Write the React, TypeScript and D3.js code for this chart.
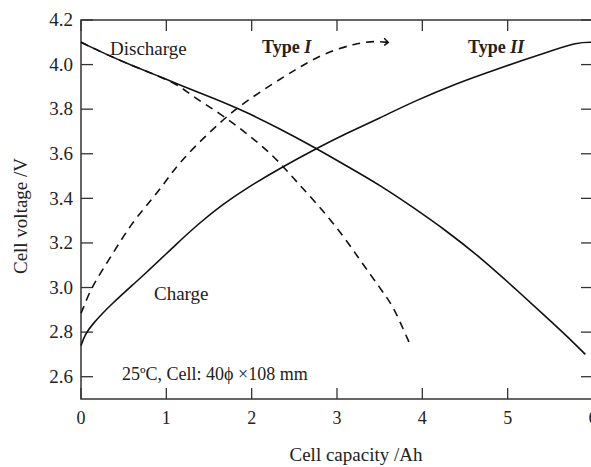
import * as d3 from "d3";

// Type II cell (solid)
const dischargeIIX = [0, 0.3, 0.6, 0.9, 1.16, 1.55, 1.94, 2.33, 2.72, 3.1, 3.5, 3.89, 4.28, 4.68, 5.06, 5.46, 5.7, 5.91];
const dischargeIIY = [4.1, 4.045, 3.995, 3.95, 3.908, 3.85, 3.787, 3.712, 3.632, 3.548, 3.46, 3.36, 3.255, 3.135, 3.005, 2.865, 2.78, 2.7];
const chargeIIX = [0, 0.05, 0.12, 0.35, 0.75, 1.13, 1.39, 1.65, 1.94, 2.33, 2.77, 3.1, 3.5, 3.9, 4.41, 4.8, 5.18, 5.5, 5.81, 6.0];
const chargeIIY = [2.74, 2.79, 2.83, 2.925, 3.06, 3.2, 3.29, 3.37, 3.446, 3.535, 3.626, 3.69, 3.76, 3.835, 3.917, 3.97, 4.02, 4.06, 4.1, 4.1];

// Type I cell (dashed)
const dischargeIX = [0, 0.3, 0.6, 0.9, 1.16, 1.28, 1.63, 1.94, 2.25, 2.49, 2.76, 3.04, 3.27, 3.5, 3.66, 3.78, 3.86];
const dischargeIY = [4.1, 4.045, 3.995, 3.95, 3.905, 3.864, 3.781, 3.692, 3.594, 3.49, 3.378, 3.25, 3.123, 3.0, 2.915, 2.81, 2.742];
const chargeIX = [0, 0.04, 0.12, 0.35, 0.59, 0.82, 1.0, 1.16, 1.47, 1.79, 2.1, 2.41, 2.57, 2.84, 3.23, 3.45, 3.6];
const chargeIY = [2.885, 2.92, 3.0, 3.138, 3.288, 3.39, 3.48, 3.564, 3.684, 3.796, 3.878, 3.953, 3.99, 4.05, 4.097, 4.105, 4.1];

const xTicks = [0, 1, 2, 3, 4, 5, 6];
const yTicks = [2.6, 2.8, 3.0, 3.2, 3.4, 3.6, 3.8, 4.0, 4.2];

const width = 591;
const height = 467;
const margin = { top: 20, right: -2, bottom: 68, left: 81 };
const font = "'Liberation Serif', 'Times New Roman', serif";

const App = () => {
  const innerWidth = width - margin.left - margin.right;
  const innerHeight = height - margin.top - margin.bottom;

  const xScale = d3.scaleLinear().domain([0, 6]).range([0, innerWidth]);
  const yScale = d3.scaleLinear().domain([2.5, 4.2]).range([innerHeight, 0]);

  // basis curve smooths out small reading errors
  const line = d3
    .line<number>()
    .x((d) => xScale(d))
    .curve(d3.curveBasis);

  const path = (xs: number[], ys: number[]) =>
    line.y((_, i) => yScale(ys[i]))(xs) || "";

  const series = [
    { xs: dischargeIIX, ys: dischargeIIY, dash: null },
    { xs: chargeIIX, ys: chargeIIY, dash: null },
    { xs: dischargeIX, ys: dischargeIY, dash: "8,6" },
    { xs: chargeIX, ys: chargeIY, dash: "8,6" },
  ];

  // end of the type I charge curve has a small tick mark
  const endX = xScale(chargeIX[chargeIX.length - 1]);
  const endY = yScale(chargeIY[chargeIY.length - 1]);

  return (
    <div>
      <style>{"body{margin:0}"}</style>
      <svg width={width} height={height} style={{ display: "block" }} fontFamily={font}>
        <rect width={width} height={height} fill="#fff" />
        <g transform={`translate(${margin.left},${margin.top})`}>
          {/* frame */}
          <rect width={innerWidth} height={innerHeight} fill="none" stroke="#333" strokeWidth={1.5} />
          {xTicks.map((t) => (
            <g key={t} transform={`translate(${xScale(t)},0)`}>
              <line y1={innerHeight} y2={innerHeight - 11} stroke="#333" strokeWidth={1.3} />
              <line y1={0} y2={11} stroke="#333" strokeWidth={1.3} />
              <text y={innerHeight + 25} textAnchor="middle" fontSize={18} fill="#222">
                {t}
              </text>
            </g>
          ))}
          {yTicks.map((t) => (
            <g key={t} transform={`translate(0,${yScale(t)})`}>
              <line x1={0} x2={12} stroke="#333" strokeWidth={1.3} />
              <line x1={innerWidth} x2={innerWidth - 12} stroke="#333" strokeWidth={1.3} />
              <text x={-8} dy="0.33em" textAnchor="end" fontSize={19} fill="#222">
                {t.toFixed(1)}
              </text>
            </g>
          ))}
          {series.map((s, i) => (
            <path
              key={i}
              d={path(s.xs, s.ys)}
              fill="none"
              stroke="#111"
              strokeWidth={1.6}
              strokeDasharray={s.dash || undefined}
            />
          ))}
          <path
            d={`M${endX - 4},${endY - 4}L${endX},${endY}L${endX - 4},${endY + 3}`}
            fill="none"
            stroke="#111"
            strokeWidth={1.6}
          />
          <text x={29} y={35} fontSize={19} fill="#222">Discharge</text>
          <text x={181} y={33} fontSize={18} fontWeight="bold" fill="#222">
            Type <tspan fontStyle="italic">I</tspan>
          </text>
          <text x={387} y={33} fontSize={18} fontWeight="bold" fill="#222">
            Type <tspan fontStyle="italic">II</tspan>
          </text>
          <text x={73} y={280} fontSize={19} fill="#222">Charge</text>
          <text x={41} y={360} fontSize={18} fill="#222">25ºC, Cell: 40ϕ ×108 mm</text>
        </g>
        <text x={356} y={461} textAnchor="middle" fontSize={19} fill="#222">
          Cell capacity /Ah
        </text>
        <text transform="translate(27,216) rotate(-90)" textAnchor="middle" fontSize={19} fill="#222">
          Cell voltage /V
        </text>
      </svg>
    </div>
  );
};

export default App;
